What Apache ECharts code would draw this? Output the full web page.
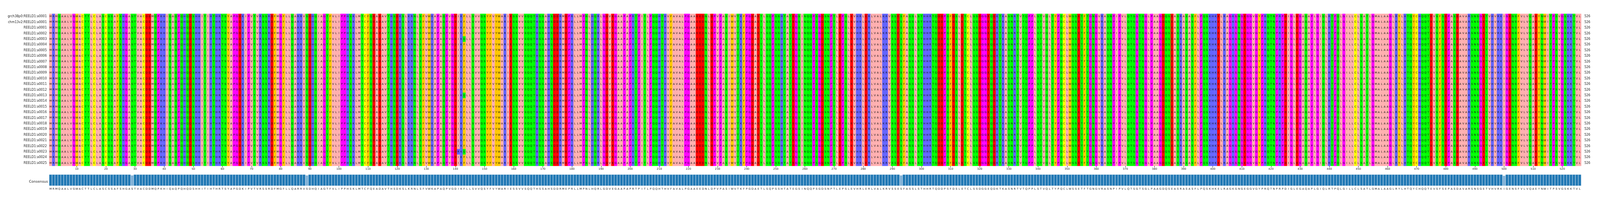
<!DOCTYPE html>
<html><head><meta charset="utf-8">
<script src="https://cdn.jsdelivr.net/npm/echarts@6/dist/echarts.min.js"></script>
<style>html,body{margin:0;padding:0;background:#fff;overflow:hidden}#c{width:100vw;height:100vh}</style>
</head><body><div id="c"></div>
<script>
const consensus = ("MRMQAALVGWAC" +
"TTLCLASCSSAFSHGASTVACDDMQPKHIQAQPQHQDSHHITIHTHRTSYAPGDKI" +
"PVTVRSSRDFMGFLLQARRVSDHQIAGTFVLIPPHSKLMTCFQEADAVTHSDKSLK" +
"RNLSFVWKAPAQPVGDIKFLLSVVQSYFVYWARIESSVVSQQTHSSAHSDDRMEP" +
"RLLMPNLHQRLGDVEGAAPAPRTPITLPQQHTHVFAVALPGAAEEDNLDPVPASIW" +
"VTKFPGDAETLSQPSSHTATEGSINQQPSGDSNPTLEPSLEVHRLERLVALKRVS" +
"SESFASSLSTHHRTQDDPSFDSLETCLSSDGGEQDKTKASNRTVTQPPLSTVQLTY" +
"PQCLWSSETFTGNGVRASNPIPVLQTSGTSGLPAAGDQSEASRASASFLPQSKHK" +
"ELRAGKGNGEGGVGYPRQTNPRPDIGLEGAQAPLGIQLRTPQLGILLCLSATLGMA" +
"LAAGLRYLHTQYCHQQTEVSFSEPASDAVARSNSGETVHVRKIGENSFVLVQAEYN" +
"WITPSVGSKKTVL").split('');
const rowNames = ["grch38p0:REELD1:a0001","chm13v2:REELD1:a0001"];
for (let i = 1; i <= 25; i++) rowNames.push("REELD1:a" + String(i).padStart(4, '0'));
const rowLengths = rowNames.map(() => "526");
// columns (1-based) with reduced conservation in the consensus track
const lowConservation = {29: 0.93, 89: 0.93, 293: 0.93, 500: 0.9};
const variants = [[4, 143, 'Q'], [14, 143, 'Q'], [24, 143, 'Q'], [24, 141, 'R']];

const zappo = {A:'#ffafaf',I:'#ffafaf',L:'#ffafaf',M:'#ffafaf',V:'#ffafaf',
  F:'#ffc800',W:'#ffc800',Y:'#ffc800',K:'#6464ff',R:'#6464ff',H:'#6464ff',
  D:'#ff0000',E:'#ff0000',S:'#00ff00',T:'#00ff00',N:'#00ff00',Q:'#00ff00',
  P:'#ff00ff',G:'#ff00ff',C:'#ffff00'};
const nCol = consensus.length;
const cols = consensus.map((_, i) => String(i + 1));
const cells = [];
rowNames.forEach((_, r) => consensus.forEach((a, c) => cells.push([c, r, a])));
variants.forEach(([r, col, a]) => { cells[r * nCol + col - 1][2] = a; });
const consVals = consensus.map((_, i) => {
  const v = lowConservation[i + 1];
  return v ? {value: v, itemStyle: {color: '#7fb0d6'}} : 1;
});
const W = window.innerWidth, k = W / 5537;
const L = 170 * k, R = 65 * k;
const fs = Math.max(6, 9.5 * k);
const chart = echarts.init(document.getElementById('c'));
chart.setOption({
  animation: false,
  title: {text: 'Consensus', left: L - 8, top: 455, textAlign: 'right',
    textStyle: {fontSize: 9, fontWeight: 'normal', color: '#222', fontFamily: 'DejaVu Sans'}},
  grid: [
    {left: L, right: R, top: 35, height: 389, containLabel: false, outerBoundsMode: 'none'},
    {left: L, right: R, top: 446, height: 29, containLabel: false, outerBoundsMode: 'none'}
  ],
  xAxis: [
    {type: 'category', data: cols, gridIndex: 0, position: 'bottom',
      axisLine: {show: false},
      axisTick: {show: true, alignWithLabel: true, interval: i => (i + 1) % 10 === 0, length: 4, lineStyle: {color: '#333'}},
      axisLabel: {interval: i => (i + 1) % 10 === 0, fontSize: 7, color: '#222', margin: 5, fontFamily: 'DejaVu Sans', hideOverlap: false}},
    {type: 'category', data: consensus, gridIndex: 1,
      axisLine: {show: false}, axisTick: {show: false},
      axisLabel: {interval: 0, fontSize: fs, color: '#222', margin: 5, fontFamily: 'DejaVu Sans', hideOverlap: false}}
  ],
  yAxis: [
    {type: 'category', data: rowNames, gridIndex: 0, inverse: true,
      axisLine: {show: false}, axisTick: {show: false},
      axisLabel: {fontSize: 8, color: '#222', margin: 6, fontFamily: 'DejaVu Sans'}},
    {type: 'category', data: rowLengths, gridIndex: 0, inverse: true, position: 'right',
      axisLine: {show: false}, axisTick: {show: false},
      axisLabel: {fontSize: 8, color: '#222', margin: 8, fontFamily: 'DejaVu Sans'}},
    {type: 'value', gridIndex: 1, min: 0, max: 1, show: false}
  ],
  series: [
    {type: 'custom', xAxisIndex: 0, yAxisIndex: 0, data: cells, progressive: 0,
      encode: {x: 0, y: 1},
      renderItem: (params, api) => {
        const p = api.coord([api.value(0), api.value(1)]);
        const s = api.size([1, 1]);
        const a = cells[params.dataIndex][2];
        return {type: 'group', children: [
          {type: 'rect', shape: {x: p[0] - s[0] / 2, y: p[1] - s[1] / 2, width: s[0] + 0.3, height: s[1] + 0.3},
            style: {fill: zappo[a] || '#fff'}},
          {type: 'text', style: {text: a, x: p[0], y: p[1], align: 'center', verticalAlign: 'middle',
            font: fs + 'px "DejaVu Sans"', fill: '#111'}}
        ]};
      }},
    {type: 'bar', xAxisIndex: 1, yAxisIndex: 2, data: consVals, barCategoryGap: '0%',
      itemStyle: {color: '#1f77b4', borderColor: '#cfe0ee', borderWidth: 0.5}}
  ]
});
</script></body></html>
